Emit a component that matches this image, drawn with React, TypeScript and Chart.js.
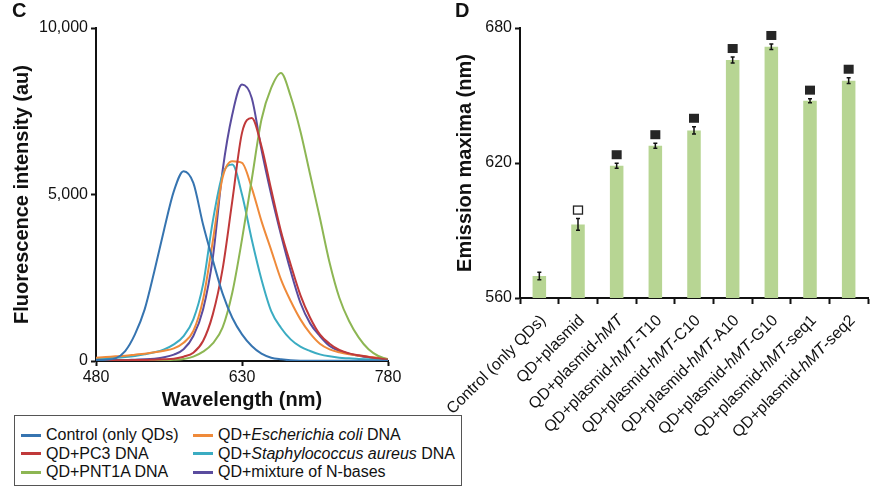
import React, { useEffect, useRef } from 'react';
import { Chart, registerables } from 'chart.js';

Chart.register(...registerables);

const FONT = "'Liberation Sans', Arial, Helvetica, sans-serif";
const INK = '#111';

// ---- Panel C: fluorescence spectra (au) sampled every 10 nm ----
const wavelengths = [480, 490, 500, 510, 520, 530, 540, 550, 560, 570, 580, 590, 600, 610, 620, 630, 640, 650, 660, 670, 680, 690, 700, 710, 720, 730, 740, 750, 760, 770, 780];
const controlQDs = [30, 40, 80, 300, 800, 1550, 2700, 3950, 5100, 5700, 5350, 4100, 3030, 2030, 1300, 800, 450, 220, 100, 50, 20, 10, 10, 10, 5, 5, 5, 5, 5, 5, 5];
const pc3DNA = [20, 20, 20, 20, 30, 30, 40, 50, 70, 130, 250, 600, 1400, 2750, 4800, 6850, 7300, 6450, 5150, 3900, 2900, 1980, 1300, 800, 520, 330, 230, 170, 120, 80, 40];
const pnt1aDNA = [10, 10, 10, 10, 10, 15, 20, 25, 35, 60, 130, 280, 530, 1000, 2050, 3650, 5450, 7250, 8200, 8650, 7950, 6900, 5600, 4300, 2950, 1900, 1200, 700, 350, 150, 50];
const eColiDNA = [100, 120, 140, 160, 190, 220, 260, 310, 380, 550, 900, 1850, 3600, 5500, 6000, 5950, 5200, 4200, 3330, 2450, 1800, 1250, 830, 520, 350, 260, 200, 160, 130, 100, 60];
const sAureusDNA = [80, 90, 100, 120, 150, 200, 260, 350, 500, 750, 1250, 2300, 4200, 5600, 5900, 5000, 3650, 2450, 1500, 1000, 650, 430, 300, 200, 140, 100, 80, 60, 50, 40, 30];
const nBasesMix = [20, 20, 30, 30, 40, 50, 70, 110, 190, 350, 750, 1550, 3100, 5700, 7400, 8300, 7900, 6350, 5000, 3800, 2700, 1750, 1130, 750, 450, 300, 220, 160, 110, 70, 40];

const spectrumLabels = ['Control (only QDs)', 'QD+PC3 DNA', 'QD+PNT1A DNA', 'QD+*Escherichia coli* DNA', 'QD+*Staphylococcus aureus* DNA', 'QD+mixture of N-bases'];
const spectrumColors = ['#3674b0', '#c0393a', '#8db653', '#ef8a3a', '#3bacc2', '#5a4c9e'];
const spectrumValues = [controlQDs, pc3DNA, pnt1aDNA, eColiDNA, sAureusDNA, nBasesMix];
const wavelengthTicks = [480, 630, 780];
const intensityTicks = [0, 5000, 10000];

// ---- Panel D: emission maxima (nm) ----
const samples = [
  'Control (only QDs)',
  'QD+plasmid',
  'QD+plasmid-*hMT*',
  'QD+plasmid-*hMT*-T10',
  'QD+plasmid-*hMT*-C10',
  'QD+plasmid-*hMT*-A10',
  'QD+plasmid-*hMT*-G10',
  'QD+plasmid-*hMT*-seq1',
  'QD+plasmid-*hMT*-seq2',
];
const emissionMaxima = [569.8, 592.7, 618.8, 627.7, 634.5, 665.8, 671.7, 647.7, 656.6];
const emissionErrors = [1.7, 2.6, 1.1, 1.1, 1.6, 1.3, 1.2, 0.9, 1.3];
const significance = ['', 'open', 'filled', 'filled', 'filled', 'filled', 'filled', 'filled', 'filled'];
const maximaTicks = [560, 620, 680];

const plain = (s: string) => s.replace(/\*/g, '');
const segments = (s: string) => s.split('*').map((text, k) => ({ text, italic: k % 2 === 1 }));

const axisGrid = (len: number) => ({
  display: true,
  drawOnChartArea: false,
  drawTicks: true,
  tickLength: len,
  tickWidth: 2,
  tickColor: INK,
});
const axisBorder = { display: true, color: INK, width: 2 };
const tickFont = { family: FONT, size: 16 };
const titleFont = { family: FONT, size: 20, weight: 'bold' as const };

// error bars, significance squares and mixed-style category labels
const barExtras = {
  id: 'barExtras',
  afterDatasetsDraw(chart: any) {
    const { ctx, scales } = chart;
    const y = scales.y;
    const meta = chart.getDatasetMeta(0);
    ctx.save();
    meta.data.forEach((bar: any, i: number) => {
      const v = emissionMaxima[i];
      const e = emissionErrors[i];
      const yTop = y.getPixelForValue(v + e);
      const yBot = y.getPixelForValue(v - e);
      const x = bar.x;
      ctx.strokeStyle = INK;
      ctx.lineWidth = 1.5;
      ctx.beginPath();
      ctx.moveTo(x, yTop);
      ctx.lineTo(x, yBot);
      ctx.moveTo(x - 2, yTop);
      ctx.lineTo(x + 2, yTop);
      ctx.moveTo(x - 2, yBot);
      ctx.lineTo(x + 2, yBot);
      ctx.stroke();
      const mark = significance[i];
      if (mark) {
        const cy = yTop - 4 - 4.5;
        if (mark === 'filled') {
          ctx.fillStyle = '#262626';
          ctx.fillRect(x - 5, cy - 4.5, 10, 9);
        } else {
          ctx.lineWidth = 1.3;
          ctx.strokeStyle = '#222';
          ctx.strokeRect(x - 4.5, cy - 4, 9, 8);
        }
      }
    });
    ctx.restore();
  },
  afterDraw(chart: any) {
    const { ctx, scales, chartArea } = chart;
    const xs = scales.x;
    ctx.save();
    ctx.fillStyle = INK;
    ctx.textBaseline = 'middle';
    ctx.textAlign = 'left';
    samples.forEach((label, i) => {
      const parts = segments(label);
      const fonts = parts.map((p) => `${p.italic ? 'italic ' : ''}16px ${FONT}`);
      let total = 0;
      const widths = parts.map((p, k) => {
        ctx.font = fonts[k];
        const w = ctx.measureText(p.text).width;
        total += w;
        return w;
      });
      ctx.save();
      ctx.translate(xs.getPixelForValue(i) + 4, chartArea.bottom + 20);
      ctx.rotate(-Math.PI / 4);
      let cx = -total;
      parts.forEach((p, k) => {
        ctx.font = fonts[k];
        ctx.fillText(p.text, cx, 0);
        cx += widths[k];
      });
      ctx.restore();
    });
    ctx.restore();
  },
};

export default function App() {
  const spectraRef = useRef<HTMLCanvasElement>(null);
  const maximaRef = useRef<HTMLCanvasElement>(null);

  useEffect(() => {
    const spectra = new Chart(spectraRef.current!, {
      type: 'line',
      data: {
        datasets: spectrumValues.map((vals, s) => ({
          label: plain(spectrumLabels[s]),
          data: wavelengths.map((w, i) => ({ x: w, y: vals[i] })),
          borderColor: spectrumColors[s],
          backgroundColor: spectrumColors[s],
          borderWidth: 2,
          pointRadius: 0,
          fill: false,
          cubicInterpolationMode: 'monotone' as const,
        })),
      },
      options: {
        responsive: false,
        animation: false,
        layout: { padding: { left: 0, right: 32, top: 28, bottom: 0 } },
        plugins: { legend: { display: false }, tooltip: { enabled: false } },
        scales: {
          x: {
            type: 'linear',
            min: 480,
            max: 780,
            afterBuildTicks: (s: any) => {
              s.ticks = wavelengthTicks.map((value) => ({ value }));
            },
            grid: axisGrid(5),
            border: axisBorder,
            ticks: { font: tickFont, color: INK, padding: 2, maxRotation: 0 },
            title: { display: true, text: 'Wavelength (nm)', font: titleFont, color: INK, padding: 0 },
            afterFit: (s: any) => {
              s.height = 51;
            },
          },
          y: {
            type: 'linear',
            min: 0,
            max: 10000,
            afterBuildTicks: (s: any) => {
              s.ticks = intensityTicks.map((value) => ({ value }));
            },
            grid: axisGrid(5),
            border: axisBorder,
            ticks: {
              font: tickFont,
              color: INK,
              padding: 3,
              callback: (v: any) => Number(v).toLocaleString('en-US'),
            },
            title: { display: true, text: 'Fluorescence intensity (au)', font: titleFont, color: INK, padding: { top: 10, bottom: 0 } },
            afterFit: (s: any) => {
              s.width = 96;
            },
          },
        },
      },
    });

    const maxima = new Chart(maximaRef.current!, {
      type: 'bar',
      data: {
        labels: samples.map(plain),
        datasets: [
          {
            label: 'Emission maxima',
            data: emissionMaxima,
            backgroundColor: '#b7d593',
            barPercentage: 0.35,
            categoryPercentage: 1,
          },
        ],
      },
      options: {
        responsive: false,
        animation: false,
        layout: { padding: { left: 0, right: 4, top: 28, bottom: 0 } },
        plugins: { legend: { display: false }, tooltip: { enabled: false } },
        scales: {
          x: {
            grid: { ...axisGrid(6), offset: true },
            border: axisBorder,
            ticks: { display: false },
            afterFit: (s: any) => {
              s.height = 198;
            },
          },
          y: {
            type: 'linear',
            min: 560,
            max: 680,
            afterBuildTicks: (s: any) => {
              s.ticks = maximaTicks.map((value) => ({ value }));
            },
            grid: axisGrid(5),
            border: axisBorder,
            ticks: { font: tickFont, color: INK, padding: 3 },
            title: { display: true, text: 'Emission maxima (nm)', font: titleFont, color: INK, padding: { top: 13, bottom: 0 } },
            afterFit: (s: any) => {
              s.width = 80;
            },
          },
        },
      },
      plugins: [barExtras],
    });

    return () => {
      spectra.destroy();
      maxima.destroy();
    };
  }, []);

  const legendPos = [
    { left: 6, top: 19 },
    { left: 6, top: 37.5 },
    { left: 6, top: 56 },
    { left: 178, top: 19 },
    { left: 178, top: 37.5 },
    { left: 178, top: 56 },
  ];

  return (
    <div
      style={{
        position: 'absolute',
        left: 0,
        top: 0,
        width: 872,
        height: 496,
        background: '#fff',
        fontFamily: FONT,
        color: INK,
        overflow: 'hidden',
      }}
    >
      <canvas ref={spectraRef} width={420} height={412} style={{ position: 'absolute', left: 0, top: 0, width: 420, height: 412 }} />
      <canvas ref={maximaRef} width={432} height={496} style={{ position: 'absolute', left: 440, top: 0, width: 432, height: 496 }} />
      <div style={{ position: 'absolute', left: 12, top: 0, fontSize: 20, lineHeight: '20px', fontWeight: 'bold' }}>C</div>
      <div style={{ position: 'absolute', left: 455, top: 0, fontSize: 20, lineHeight: '20px', fontWeight: 'bold' }}>D</div>
      <div
        style={{
          position: 'absolute',
          left: 14,
          top: 415,
          width: 448,
          height: 71,
          boxSizing: 'border-box',
          border: '1px solid #555',
          background: '#fff',
        }}
      >
        {spectrumLabels.map((label, s) => (
          <div
            key={label}
            style={{
              position: 'absolute',
              left: legendPos[s].left,
              top: legendPos[s].top - 10,
              height: 20,
              display: 'flex',
              alignItems: 'center',
              whiteSpace: 'nowrap',
              fontSize: 16,
            }}
          >
            <span style={{ display: 'inline-block', width: 20, height: 3, background: spectrumColors[s] }} />
            <span style={{ marginLeft: 5 }}>
              {segments(label).map((p, k) => (p.italic ? <i key={k}>{p.text}</i> : <span key={k}>{p.text}</span>))}
            </span>
          </div>
        ))}
      </div>
    </div>
  );
}
